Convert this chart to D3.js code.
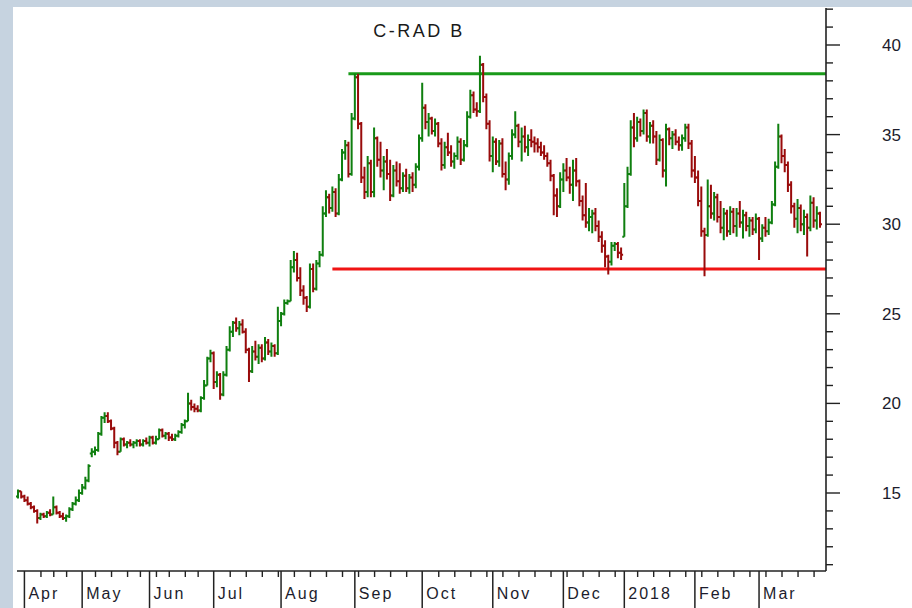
<!DOCTYPE html>
<html>
<head>
<meta charset="utf-8">
<script src="https://cdn.jsdelivr.net/npm/d3@7"></script>
<style>
  body { margin: 0; background: #fff; }
  svg { display: block; font-family: "Liberation Sans", Arial, sans-serif; }
</style>
</head>
<body>
<div id="chart"></div>
<script>
const title = "C-RAD B";

// daily bars [open, high, low, close], 30 Mar 2017 .. 28 Mar 2018
const ohlc = [
  [14.8,15.2,14.7,15.1],[15.1,15.1,14.7,14.8],[14.8,14.9,14.5,14.6],[14.6,14.8,14.3,14.4],[14.4,14.5,14.1,14.2],
  [14.2,14.3,13.9,14.0],[14.0,14.1,13.3,13.6],[13.6,13.9,13.5,13.8],[13.8,13.9,13.6,13.7],[13.7,14.0,13.6,13.9],
  [13.9,14.1,13.7,13.8],[13.8,14.8,13.8,14.2],[14.2,14.3,13.8,13.9],[13.9,14.0,13.6,13.7],[13.7,13.9,13.5,13.6],
  [13.6,13.8,13.4,13.7],[13.7,14.2,13.6,14.1],[14.1,14.5,14.0,14.4],[14.4,14.8,14.3,14.6],[14.6,15.2,14.5,15.0],
  [15.0,15.5,14.9,15.3],[15.3,15.9,15.2,15.7],[15.7,16.6,15.6,16.5],[17.2,17.5,17.0,17.3],[17.3,17.6,17.1,17.4],
  [17.4,18.4,17.3,18.3],[18.3,19.3,18.2,19.2],[19.2,19.5,18.9,19.3],[19.3,19.5,18.9,19.0],[19.0,19.1,18.5,18.6],
  [18.6,18.7,17.5,17.8],[17.8,17.9,17.1,17.3],[17.3,18.1,17.3,18.0],[18.0,18.1,17.6,17.7],[17.7,17.9,17.5,17.8],
  [17.8,18.0,17.6,17.7],[17.7,17.9,17.5,17.8],[17.8,18.0,17.6,17.9],[17.9,18.0,17.6,17.7],[17.7,18.0,17.6,17.9],
  [17.9,18.1,17.7,17.8],[17.8,18.2,17.6,18.1],[18.1,18.2,17.7,17.8],[17.8,18.2,17.7,18.0],[18.0,18.6,18.0,18.5],
  [18.5,18.6,18.1,18.2],[18.2,18.4,18.0,18.3],[18.3,18.4,17.9,18.1],[18.1,18.3,17.9,18.0],[18.0,18.3,17.9,18.2],
  [18.2,18.5,18.1,18.4],[18.4,18.9,18.3,18.8],[18.8,19.1,18.6,19.0],[19.0,20.6,19.0,20.0],[20.0,20.2,19.6,19.8],
  [19.8,20.0,19.5,19.7],[19.7,19.9,19.5,19.6],[19.6,20.4,19.5,20.3],[20.3,21.3,20.2,21.0],[21.0,22.6,21.0,22.5],
  [22.5,23.0,22.3,22.8],[22.8,22.9,20.8,21.2],[21.2,21.8,20.9,21.6],[21.6,21.7,20.2,20.5],[20.5,21.8,20.4,21.6],
  [21.6,23.2,21.5,23.0],[23.0,24.3,22.9,24.0],[24.0,24.6,23.7,24.5],[24.5,24.8,24.0,24.2],[24.2,24.6,23.8,24.4],
  [24.4,24.7,23.9,24.0],[24.0,24.2,22.8,23.0],[23.0,23.1,21.2,21.8],[21.8,23.2,21.7,22.9],[22.9,23.5,22.4,22.6],
  [22.6,23.3,22.2,23.1],[23.1,23.3,22.3,22.5],[22.5,23.7,22.4,23.4],[23.4,23.6,22.7,22.9],[22.9,23.4,22.6,23.2],
  [23.2,23.3,22.6,22.8],[22.8,25.4,22.7,24.6],[24.6,25.1,24.3,25.0],[25.0,25.8,24.9,25.6],[25.6,25.8,25.5,25.7],
  [25.7,28.0,25.7,27.6],[27.6,28.5,27.3,28.0],[28.0,28.4,26.8,27.0],[27.0,27.6,26.0,26.3],[26.3,26.6,25.5,25.9],
  [25.9,26.0,25.1,25.4],[25.4,27.8,25.3,27.5],[27.5,27.8,26.2,26.4],[26.4,28.0,26.3,27.8],[27.8,28.5,27.6,28.3],
  [28.3,31.0,28.2,30.6],[30.6,31.9,30.4,31.5],[31.5,31.7,30.6,30.9],[30.9,32.1,30.7,31.8],[31.8,32.0,30.4,30.6],
  [30.6,32.8,30.5,32.5],[32.5,34.2,32.4,34.0],[34.0,34.7,33.6,34.4],[34.4,34.6,32.6,32.8],[32.8,36.2,32.7,35.9],
  [35.9,38.4,35.8,38.2],[38.2,38.4,35.3,35.6],[35.6,35.7,32.3,32.6],[32.6,33.2,31.4,31.8],[31.8,33.8,31.5,33.4],
  [33.4,33.6,31.5,31.8],[31.8,35.4,31.5,34.8],[34.8,34.9,33.2,33.6],[33.6,34.6,32.6,33.0],[33.0,33.8,31.9,33.5],
  [33.5,34.2,32.5,32.8],[32.8,33.6,31.3,31.6],[31.6,33.3,31.5,33.0],[33.0,33.5,32.1,32.4],[32.4,33.4,31.7,32.0],
  [32.0,32.9,31.8,32.7],[32.7,33.1,31.8,32.0],[32.0,32.8,31.7,32.6],[32.6,32.9,31.8,32.2],[32.2,33.4,32.0,33.2],
  [33.2,35.0,33.0,34.8],[34.8,37.9,34.6,36.5],[36.5,36.7,35.3,35.7],[35.7,36.2,34.9,35.9],[35.9,36.0,35.0,35.2],
  [35.2,35.9,34.9,35.6],[35.6,35.7,34.3,34.5],[34.5,34.8,33.0,33.3],[33.3,34.6,33.1,34.3],[34.3,35.1,33.8,34.0],
  [34.0,34.4,33.2,33.5],[33.5,34.0,33.1,33.8],[33.8,34.9,33.6,34.6],[34.6,34.8,33.3,33.6],[33.6,34.7,33.5,34.4],
  [34.4,36.3,34.3,36.0],[36.0,37.5,35.9,37.2],[37.2,37.4,36.2,36.4],[36.4,36.8,36.0,36.3],[36.3,39.4,36.2,38.9],
  [38.9,39.0,36.8,37.1],[37.1,37.3,35.3,35.6],[35.6,35.8,33.5,33.8],[33.8,34.9,32.9,34.6],[34.6,34.8,33.3,33.5],
  [33.5,34.7,33.2,34.5],[34.5,34.8,32.6,32.8],[32.8,33.5,31.9,32.5],[32.5,34.0,32.2,33.8],[33.8,35.3,33.6,35.0],
  [35.0,36.3,34.8,35.5],[35.5,35.6,34.3,34.6],[34.6,35.4,33.5,34.9],[34.9,35.5,34.0,34.3],[34.3,35.0,33.8,34.7],
  [34.7,35.3,34.3,34.6],[34.6,34.9,34.0,34.5],[34.5,34.8,34.0,34.3],[34.3,34.6,33.8,34.0],[34.0,34.4,33.6,33.8],
  [33.8,34.0,33.2,33.4],[33.4,33.6,32.4,32.7],[32.7,32.8,30.5,31.6],[31.6,32.0,30.4,31.0],[31.0,32.9,30.9,32.5],
  [32.5,33.4,31.8,33.0],[33.0,33.7,32.4,32.6],[32.6,33.2,31.7,32.2],[32.2,33.6,31.3,33.0],[33.0,33.7,32.1,32.4],
  [32.4,32.5,31.0,31.3],[31.3,31.6,30.2,30.5],[30.5,32.3,29.8,30.1],[30.1,30.9,29.6,30.4],[30.4,30.8,29.5,30.6],
  [30.6,30.9,29.6,29.9],[29.9,30.2,29.0,29.3],[29.3,29.6,28.4,28.8],[28.8,29.1,27.6,28.2],[28.2,28.3,27.2,27.9],
  [27.9,29.0,27.7,28.8],[28.8,29.0,28.5,28.9],[28.9,29.0,28.1,28.4],[28.4,28.7,28.0,28.3],[29.3,32.3,29.3,31.0],
  [31.0,33.2,30.9,32.8],[32.8,35.8,32.7,35.4],[35.4,36.2,34.3,34.8],[34.8,36.0,34.6,35.7],[35.7,35.9,34.9,35.2],
  [35.2,36.4,35.0,36.2],[36.2,36.4,34.6,34.9],[34.9,35.7,34.5,35.5],[35.5,35.8,34.5,34.9],[34.9,35.2,33.3,33.6],
  [33.6,35.0,33.5,34.7],[34.7,34.8,32.6,33.0],[33.0,35.6,32.1,35.3],[35.3,35.4,34.4,34.8],[34.8,35.2,34.2,35.0],
  [35.0,35.3,34.4,34.6],[34.6,34.9,34.1,34.4],[34.4,35.0,34.1,34.8],[34.8,35.6,34.6,35.4],[35.4,35.6,34.2,34.5],
  [34.5,34.7,32.6,33.0],[33.0,33.8,32.3,32.6],[32.6,33.0,31.0,31.3],[31.3,32.1,29.3,29.6],[29.6,29.8,27.1,29.4],
  [29.4,32.5,29.3,31.0],[31.0,32.2,30.3,30.6],[30.6,31.8,30.2,31.5],[31.5,31.7,30.1,30.4],[30.4,31.3,29.5,29.8],
  [29.8,30.9,29.1,30.6],[30.6,30.8,29.3,29.6],[29.6,31.0,29.4,30.7],[30.7,30.9,29.5,29.9],[29.9,30.9,29.3,30.6],
  [30.6,31.3,29.8,30.1],[30.1,30.8,29.2,30.5],[30.5,30.7,29.6,29.9],[29.9,30.4,29.3,30.2],[30.2,30.4,29.4,29.7],
  [29.7,30.6,29.5,30.3],[30.3,30.4,28.0,29.2],[29.2,30.0,29.0,29.8],[29.8,30.4,29.3,29.6],[29.6,30.3,29.4,30.1],
  [30.1,31.3,30.0,31.1],[31.1,33.5,31.0,33.2],[33.2,35.6,33.1,34.9],[34.9,35.0,33.4,33.8],[33.8,34.2,32.9,33.3],
  [33.3,33.5,31.8,32.2],[32.2,32.4,30.6,31.0],[31.0,31.2,29.8,30.3],[30.3,31.4,29.5,30.9],[30.9,31.1,29.6,30.0],
  [30.0,30.8,29.4,30.4],[30.4,30.6,28.2,29.8],[29.8,31.6,29.6,31.2],[31.2,31.5,29.8,30.2],[30.2,31.0,29.7,30.6],
  [30.6,30.7,29.8,30.0]
];

// x axis: first bar index of each month, and of each week
const monthLabels = ["Apr", "May", "Jun", "Jul", "Aug", "Sep", "Oct", "Nov", "Dec", "2018", "Feb", "Mar"];
const monthStarts = [2, 20, 41, 61, 82, 105, 126, 148, 170, 189, 211, 231];
const weekStarts = [7, 11, 15, 24, 29, 34, 38, 43, 47, 52, 56, 66, 71, 76, 81, 86, 91, 96, 101,
  106, 111, 116, 121, 131, 136, 141, 146, 151, 156, 161, 166, 171, 176, 181, 186,
  193, 198, 203, 208, 213, 218, 223, 228, 233, 238, 243, 248];

// y axis
const yMinorTicks = [11, 12, 13, 14, 15, 16, 17, 18, 19, 20, 21, 22, 23, 24, 25, 26, 27, 28, 29, 30,
  31, 32, 33, 34, 35, 36, 37, 38, 39, 40, 41, 42];
const yMajorTicks = [15, 20, 25, 30, 35, 40];

// trend lines: [level, first bar index]
const resistance = [38.4, 103];
const support = [27.5, 98];

const width = 912, height = 608;
const upColor = "#0f7f0f", downColor = "#990b0b";
const axisColor = "#222";

const svg = d3.select("#chart").append("svg")
  .attr("width", width)
  .attr("height", height);

// frame
svg.append("rect").attr("width", width).attr("height", height).attr("fill", "#c6d3e0");
svg.append("rect").attr("x", 13).attr("y", 7).attr("width", width - 13).attr("height", height - 7).attr("fill", "#fff");

const x = d3.scaleLinear().domain([0, 250]).range([18, 820]);
const y = d3.scaleLinear().domain([15, 40]).range([493, 45]);

const axisX = 826, axisY = 571, axisTop = 8;

// title
svg.append("text")
  .attr("x", 419).attr("y", 37)
  .attr("text-anchor", "middle")
  .attr("font-size", 18)
  .attr("letter-spacing", 2.5)
  .attr("fill", "#1a1a1a")
  .text(title);

// trend lines
svg.append("line")
  .attr("x1", x(resistance[1])).attr("x2", axisX)
  .attr("y1", y(resistance[0])).attr("y2", y(resistance[0]))
  .attr("stroke", "#1a9a1a").attr("stroke-width", 3);
svg.append("line")
  .attr("x1", x(support[1])).attr("x2", axisX)
  .attr("y1", y(support[0])).attr("y2", y(support[0]))
  .attr("stroke", "#f01414").attr("stroke-width", 3);

// bars
svg.append("g")
  .selectAll("path")
  .data(ohlc)
  .join("path")
  .attr("fill", "none")
  .attr("stroke-width", 2)
  .attr("stroke", d => d[3] >= d[0] ? upColor : downColor)
  .attr("d", (d, i) => {
    const cx = x(i);
    return `M${cx},${y(d[1])}V${y(d[2])}M${cx - 2},${y(d[0])}H${cx}M${cx},${y(d[3])}H${cx + 2}`;
  });

// right axis
const yAxis = svg.append("g");
yAxis.append("line")
  .attr("x1", axisX).attr("x2", axisX)
  .attr("y1", axisTop).attr("y2", axisY)
  .attr("stroke", axisColor).attr("stroke-width", 1.6);
yAxis.selectAll("line.tick")
  .data(yMinorTicks)
  .join("line")
  .attr("class", "tick")
  .attr("x1", axisX)
  .attr("x2", d => axisX + (yMajorTicks.includes(d) ? 14 : 7))
  .attr("y1", d => y(d)).attr("y2", d => y(d))
  .attr("stroke", axisColor).attr("stroke-width", 1.4);
yAxis.selectAll("text")
  .data(yMajorTicks)
  .join("text")
  .attr("x", 901)
  .attr("y", d => y(d) + 6)
  .attr("text-anchor", "end")
  .attr("font-size", 17)
  .attr("fill", "#1c1c2c")
  .text(d => d);

// bottom axis with weekly ticks
const xAxis = svg.append("g")
  .attr("transform", `translate(0,${axisY})`)
  .call(d3.axisBottom(x)
    .tickValues(weekStarts)
    .tickSize(6)
    .tickSizeOuter(0)
    .tickFormat(""));
xAxis.select(".domain").attr("d", `M17,0H${axisX}`).attr("stroke", axisColor).attr("stroke-width", 1.6);
xAxis.selectAll(".tick line").attr("stroke", axisColor).attr("stroke-width", 1.4);

// month separators and labels
const months = svg.append("g").selectAll("g")
  .data(monthStarts)
  .join("g")
  .attr("transform", d => `translate(${x(d)},${axisY})`);
months.append("line")
  .attr("y1", 0).attr("y2", height - axisY)
  .attr("stroke", axisColor).attr("stroke-width", 1.5);
months.append("text")
  .attr("x", 4).attr("y", 28)
  .attr("font-size", 16)
  .attr("letter-spacing", 2)
  .attr("fill", "#1c1c2c")
  .text((d, i) => monthLabels[i]);
</script>
</body>
</html>
